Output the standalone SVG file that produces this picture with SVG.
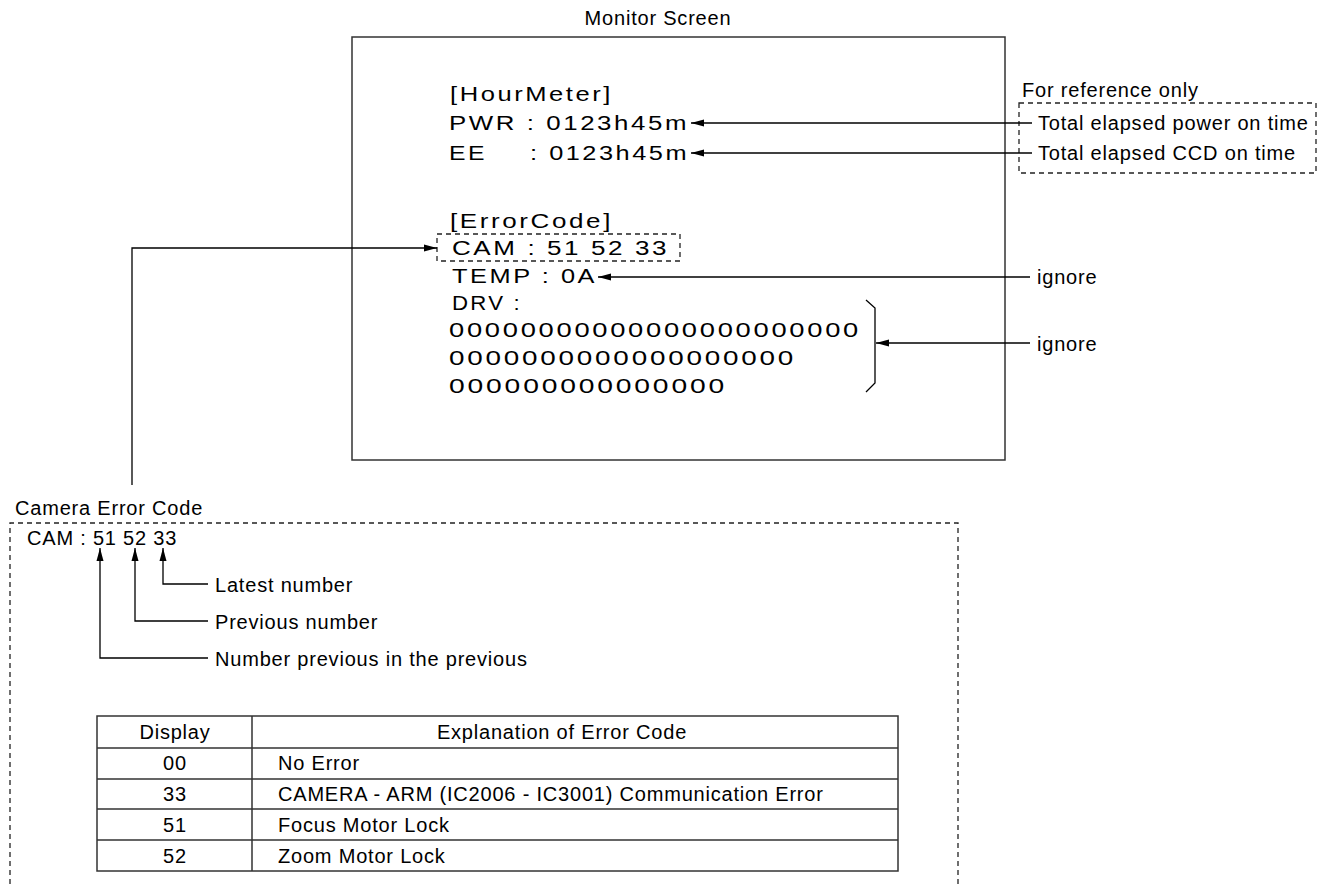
<svg xmlns="http://www.w3.org/2000/svg" width="1325" height="884" viewBox="0 0 1325 884">
<defs>
<style>
.t{font-family:"Liberation Sans",Arial,sans-serif;font-size:20px;fill:#000;letter-spacing:0.8px}
.m{font-family:"Liberation Sans",Arial,sans-serif;font-size:20px;fill:#000;letter-spacing:2px}
.ln{stroke:#000;stroke-width:1.3;fill:none}
.box{stroke:#333;stroke-width:1.5;fill:none}
.dash{stroke:#222;stroke-width:1.3;fill:none;stroke-dasharray:5,4}
.c{text-anchor:middle}
</style>
<marker id="ah" viewBox="0 0 13 8" refX="13" refY="4" markerWidth="13" markerHeight="8" markerUnits="userSpaceOnUse" orient="auto">
<path d="M0,0.5 L13,4 L0,7.5 Z" fill="#000"/>
</marker>
</defs>
<rect width="1325" height="884" fill="#fff"/>

<g id="monitor">
<text class="t c" x="658" y="25">Monitor Screen</text>
<rect class="box" x="352" y="37" width="653" height="423"/>
<text class="m" x="450" y="101" textLength="163" lengthAdjust="spacingAndGlyphs">[HourMeter]</text>
<text class="m" x="449" y="130" textLength="240" lengthAdjust="spacingAndGlyphs">PWR : 0123h45m</text>
<text class="m" x="449" y="160" textLength="38" lengthAdjust="spacingAndGlyphs">EE</text>
<text class="m" x="530" y="160" textLength="159" lengthAdjust="spacingAndGlyphs">: 0123h45m</text>
<text class="m" x="450" y="228" textLength="163" lengthAdjust="spacingAndGlyphs">[ErrorCode]</text>
<rect class="dash" x="437" y="234" width="243" height="27"/>
<text class="m" x="452" y="255" textLength="217" lengthAdjust="spacingAndGlyphs">CAM : 51 52 33</text>
<text class="m" x="452" y="283" textLength="145" lengthAdjust="spacingAndGlyphs">TEMP : 0A</text>
<text class="m" x="452" y="310" textLength="70" lengthAdjust="spacingAndGlyphs">DRV :</text>
<text class="m" x="449" y="337" textLength="412" lengthAdjust="spacingAndGlyphs">00000000000000000000000</text>
<text class="m" x="449" y="365" textLength="347" lengthAdjust="spacingAndGlyphs">0000000000000000000</text>
<text class="m" x="449" y="393" textLength="278" lengthAdjust="spacingAndGlyphs">000000000000000</text>
<path class="ln" d="M866,300 L875,308 L875,383 L866,392"/>
</g>

<g id="reference">
<text class="t" x="1022" y="97">For reference only</text>
<rect class="dash" x="1019" y="103" width="297" height="70"/>
<text class="t" x="1038" y="130">Total elapsed power on time</text>
<text class="t" x="1038" y="160">Total elapsed CCD on time</text>
</g>

<g id="ignore1"><text class="t" x="1037" y="284">ignore</text></g>
<g id="ignore2"><text class="t" x="1037" y="351">ignore</text></g>

<g id="camera-error">
<text class="t" x="15" y="515">Camera Error Code</text>
<path class="dash" d="M10,884 L10,523 L958,523 L958,884"/>
<text class="t" x="27" y="545">CAM : 51 52 33</text>
<text class="t" x="215" y="592">Latest number</text>
<text class="t" x="215" y="629">Previous number</text>
<text class="t" x="215" y="666">Number previous in the previous</text>
</g>

<g id="table">
<rect class="box" x="97" y="716" width="801" height="155"/>
<path class="box" d="M252,716 V871 M97,748 H898 M97,779 H898 M97,809 H898 M97,840 H898"/>
<text class="t c" x="175" y="739">Display</text>
<text class="t c" x="562" y="739">Explanation of Error Code</text>
<text class="t c" x="175" y="770">00</text>
<text class="t" x="278" y="770">No Error</text>
<text class="t c" x="175" y="801">33</text>
<text class="t" x="278" y="801">CAMERA - ARM (IC2006 - IC3001) Communication Error</text>
<text class="t c" x="175" y="832">51</text>
<text class="t" x="278" y="832">Focus Motor Lock</text>
<text class="t c" x="175" y="863">52</text>
<text class="t" x="278" y="863">Zoom Motor Lock</text>
</g>

<g id="connectors">
<path class="ln" d="M1032,123 L691,123" marker-end="url(#ah)"/>
<path class="ln" d="M1032,153 L691,153" marker-end="url(#ah)"/>
<path class="ln" d="M1030,277 L598,277" marker-end="url(#ah)"/>
<path class="ln" d="M1030,343 L876,343" marker-end="url(#ah)"/>
<path class="ln" d="M132,485 L132,248 L437,248" marker-end="url(#ah)"/>
<path class="ln" d="M208,584 L163,584 L163,548" marker-end="url(#ah)"/>
<path class="ln" d="M208,621 L135,621 L135,548" marker-end="url(#ah)"/>
<path class="ln" d="M208,658 L100,658 L100,548" marker-end="url(#ah)"/>
</g>
</svg>
